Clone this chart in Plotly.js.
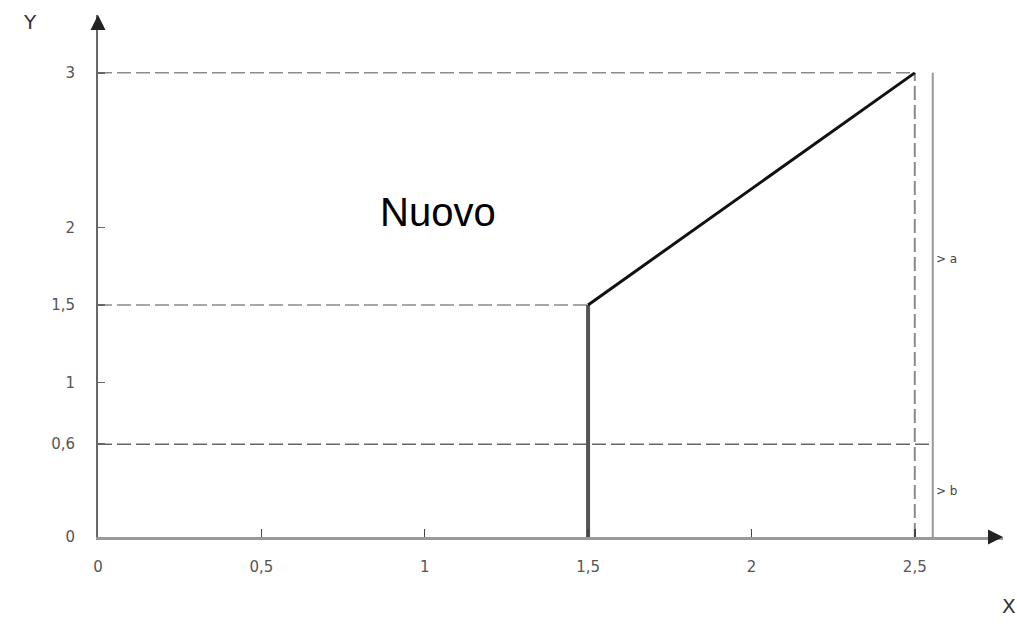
<!DOCTYPE html>
<html>
<head>
<meta charset="utf-8">
<script src="https://cdn.plot.ly/plotly-3.0.1.min.js"></script>
<style>html,body{margin:0;padding:0;background:#fff;}#chart{width:1017px;height:625px;}</style>
</head>
<body>
<div id="chart"></div>
<script>
// ---- data ----
const xTickVals = [0, 0.5, 1, 1.5, 2, 2.5];
const xTickText = ["0", "0,5", "1", "1,5", "2", "2,5"];
const yTickVals = [0, 0.6, 1, 1.5, 2, 3];
const yTickText = ["0", "0,6", "1", "1,5", "2", "3"];

const riseX = [1.5, 2.5];          // sloped solid line
const riseY = [1.5, 3];
const stemX = [1.5, 1.5];          // thick vertical at x = 1,5
const stemY = [0, 1.5];

const dashTopX = [0, 2.5], dashTopY = [3, 3];
const dashMidX = [0, 1.5], dashMidY = [1.5, 1.5];
const dashLowX = [0, 2.555], dashLowY = [0.6, 0.6];
const dashVertX = [2.5, 2.5], dashVertY = [0, 3];
const braceX = [2.555, 2.555], braceY = [0, 3];

const braceLabels = ["&gt; a", "&gt; b"];
const braceLabelY = [1.8, 0.3];
const label = "Nuovo";
const labelX = 1.04, labelY = 2.1;

const grey = "#8a8a8a";
const dashStyle = "14px,5px";
const traces = [
  {x: dashTopX, y: dashTopY, mode: "lines", line: {color: grey, width: 1.5, dash: dashStyle}},
  {x: dashMidX, y: dashMidY, mode: "lines", line: {color: grey, width: 1.5, dash: dashStyle}},
  {x: dashLowX, y: dashLowY, mode: "lines", line: {color: "#666", width: 1.5, dash: dashStyle}},
  {x: dashVertX, y: dashVertY, mode: "lines", line: {color: grey, width: 2, dash: dashStyle}},
  {x: braceX, y: braceY, mode: "lines", line: {color: "#999", width: 2}},
  {x: stemX, y: stemY, mode: "lines", line: {color: "#555", width: 4}},
  {x: riseX, y: riseY, mode: "lines", line: {color: "#111", width: 3}}
];

const annotations = [
  {x: labelX, y: labelY, xref: "x", yref: "y", text: label, showarrow: false,
   font: {family: "Liberation Sans, Arial, sans-serif", size: 40, color: "#000"}},
  {x: (30 - 98) / 905, y: (537 - 22) / 522, xref: "paper", yref: "paper", xanchor: "center", yanchor: "middle",
   text: "Y", showarrow: false, font: {family: "DejaVu Sans, sans-serif", size: 20, color: "#333"}},
  {x: (1009 - 98) / 905, y: (537 - 606) / 522, xref: "paper", yref: "paper", xanchor: "center", yanchor: "middle",
   text: "X", showarrow: false, font: {family: "DejaVu Sans, sans-serif", size: 20, color: "#333"}},
  // arrowheads at the axis ends
  {x: 0, y: 3.374, xref: "x", yref: "y", ax: 0, ay: 14, text: "",
   showarrow: true, arrowhead: 2, arrowsize: 1.5, arrowwidth: 2, arrowcolor: "#222"},
  {x: 2.77, y: 0, xref: "x", yref: "y", ax: -14, ay: 0, text: "",
   showarrow: true, arrowhead: 2, arrowsize: 1.5, arrowwidth: 2, arrowcolor: "#222"}
];
braceLabels.forEach((t, i) => annotations.push({
  x: braceX[0], y: braceLabelY[i], xref: "x", yref: "y", xanchor: "left", xshift: 1, text: t, showarrow: false,
  font: {family: "DejaVu Sans, sans-serif", size: 12, color: "#444"}
}));

const layout = {
  width: 1017, height: 625,
  margin: {l: 98, r: 14, t: 15, b: 88},
  paper_bgcolor: "#fff", plot_bgcolor: "#fff",
  showlegend: false,
  xaxis: {
    range: [0, 2.77], showgrid: false, zeroline: false,
    showline: true, linecolor: "#999", linewidth: 3,
    tickvals: xTickVals, ticktext: xTickText,
    ticks: "inside", ticklen: 8, tickwidth: 1.5, tickcolor: "#444",
    ticklabelstandoff: 14,
    tickfont: {family: "DejaVu Sans, sans-serif", size: 15, color: "#555"}
  },
  yaxis: {
    range: [0, 3.374], showgrid: false, zeroline: false,
    showline: true, linecolor: "#666", linewidth: 2,
    tickvals: yTickVals, ticktext: yTickText,
    ticks: "inside", ticklen: 7, tickwidth: 1.5, tickcolor: "#666",
    ticklabelstandoff: 18,
    tickfont: {family: "DejaVu Sans, sans-serif", size: 15, color: "#555"}
  },
  annotations: annotations
};

Plotly.newPlot("chart", traces, layout, {staticPlot: true, displayModeBar: false});
</script>
</body>
</html>
